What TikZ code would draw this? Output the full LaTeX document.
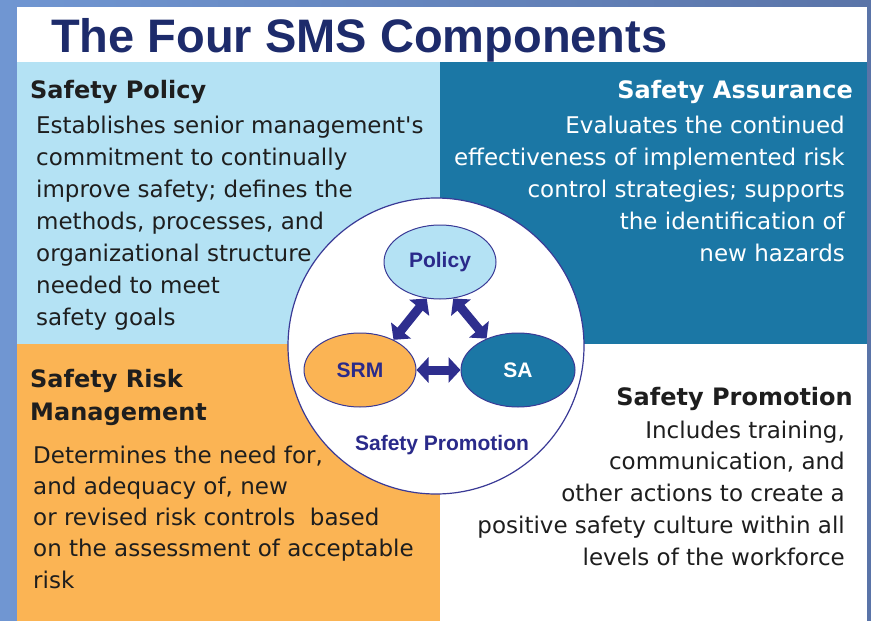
\documentclass[tikz,border=0pt]{standalone}
\usepackage{fontspec}
\setmainfont{DejaVu Sans}
\newfontfamily\plainfont{DejaVu Sans}
\newfontfamily\arialfont{Liberation Sans}
\usetikzlibrary{shapes.geometric,arrows.meta}
\definecolor{bgL}{HTML}{7096D2}
\definecolor{bgR}{HTML}{5A74A8}
\definecolor{lblue}{HTML}{B4E2F4}
\definecolor{tealc}{HTML}{1B77A5}
\definecolor{orangec}{HTML}{FBB454}
\definecolor{titlenavy}{HTML}{1D2B6B}
\definecolor{arrownavy}{HTML}{2E2E8E}
\definecolor{labnavy}{HTML}{2A2A8A}
\definecolor{rimc}{HTML}{3A3A96}
\definecolor{bodyc}{HTML}{1E1E1E}
\begin{document}
\begin{tikzpicture}[x=1pt,y=-1pt,
  head/.style={inner sep=0pt, font=\bfseries\fontsize{24}{24}\selectfont},
  body/.style={inner sep=0pt, font=\fontsize{23}{23}\selectfont},
  comp/.style={ellipse, draw=rimc, line width=1pt, minimum width=112pt, minimum height=74pt, inner sep=0pt,
               font=\arialfont\bfseries\fontsize{21}{21}\selectfont},
  dbl/.style={arrownavy, line width=9pt,
              {Triangle[width=25pt,length=12pt]}-{Triangle[width=25pt,length=12pt]}}
]
\useasboundingbox (0,0) rectangle (871,621);
% background and panels
\shade[left color=bgL, right color=bgR] (0,0) rectangle (871,621);
\fill[white] (17,7) rectangle (867,621);
\fill[lblue] (17,62) rectangle (440,344);
\fill[tealc] (440,62) rectangle (867,344);
\fill[orangec] (17,344) rectangle (440,621);

% title
\node[anchor=base west, inner sep=0pt, text=titlenavy,
      font=\arialfont\bfseries\fontsize{47}{47}\selectfont] (title) at (51,52) {The Four SMS Components};

% headings
\node[head, anchor=base west, text=bodyc] (hsp) at (30,98) {Safety Policy};
\node[head, anchor=base east, text=white] (hsa) at (853,98) {Safety Assurance};
\node[head, anchor=base west, text=bodyc] (hsrm1) at (30,387) {Safety Risk};
\node[head, anchor=base west, text=bodyc] (hsrm2) at (30,420) {Management};
\node[head, anchor=base east, text=bodyc] (hpro) at (853,405) {Safety Promotion};

% body texts
\foreach \t [count=\i] in {Establishes senior management{\plainfont'}s, commitment to continually,
  improve safety; defines the, {methods, processes, and}, organizational structure,
  needed to meet, safety goals}
  \node[body, anchor=base west, text=bodyc, name=sp\i] at (36,{133+32*(\i-1)}) {\t};

\foreach \t [count=\i] in {Evaluates the continued, effectiveness of implemented risk,
  control strategies; supports, the identification of, new hazards}
  \node[body, anchor=base east, text=white, name=sa\i] at (845,{133+32*(\i-1)}) {\t};

\foreach \t [count=\i] in {{Determines the need for,}, {and adequacy of, new},
  or revised risk controls~ based, on the assessment of acceptable, risk}
  \node[body, anchor=base west, text=bodyc, name=srm\i] at (33,{463+31.3*(\i-1)}) {\t};

\foreach \t [count=\i] in {{Includes training,}, {communication, and},
  other actions to create a, positive safety culture within all, levels of the workforce}
  \node[body, anchor=base east, text=bodyc, name=pr\i] at (845,{438+31.8*(\i-1)}) {\t};

% central circle
\node[circle, draw=rimc, line width=1.2pt, fill=white, minimum size=296pt, inner sep=0pt] (ring) at (436,346) {};
\node[comp, fill=lblue, text=labnavy] (pol) at (440,262) {Policy};
\node[comp, fill=orangec, text=labnavy] (srm) at (360,370) {SRM};
\node[comp, fill=tealc, text=white, minimum width=114pt] (sa) at (518,370) {SA};
\node[inner sep=0pt, text=labnavy, font=\arialfont\bfseries\fontsize{21}{21}\selectfont] (promo) at (442,445) {Safety Promotion};

% arrows
\draw[dbl] (pol.250) -- (srm.42);
\draw[dbl] (pol.290) -- (sa.135);
\draw[dbl] (srm.east) -- (sa.west);
\end{tikzpicture}
\end{document}
